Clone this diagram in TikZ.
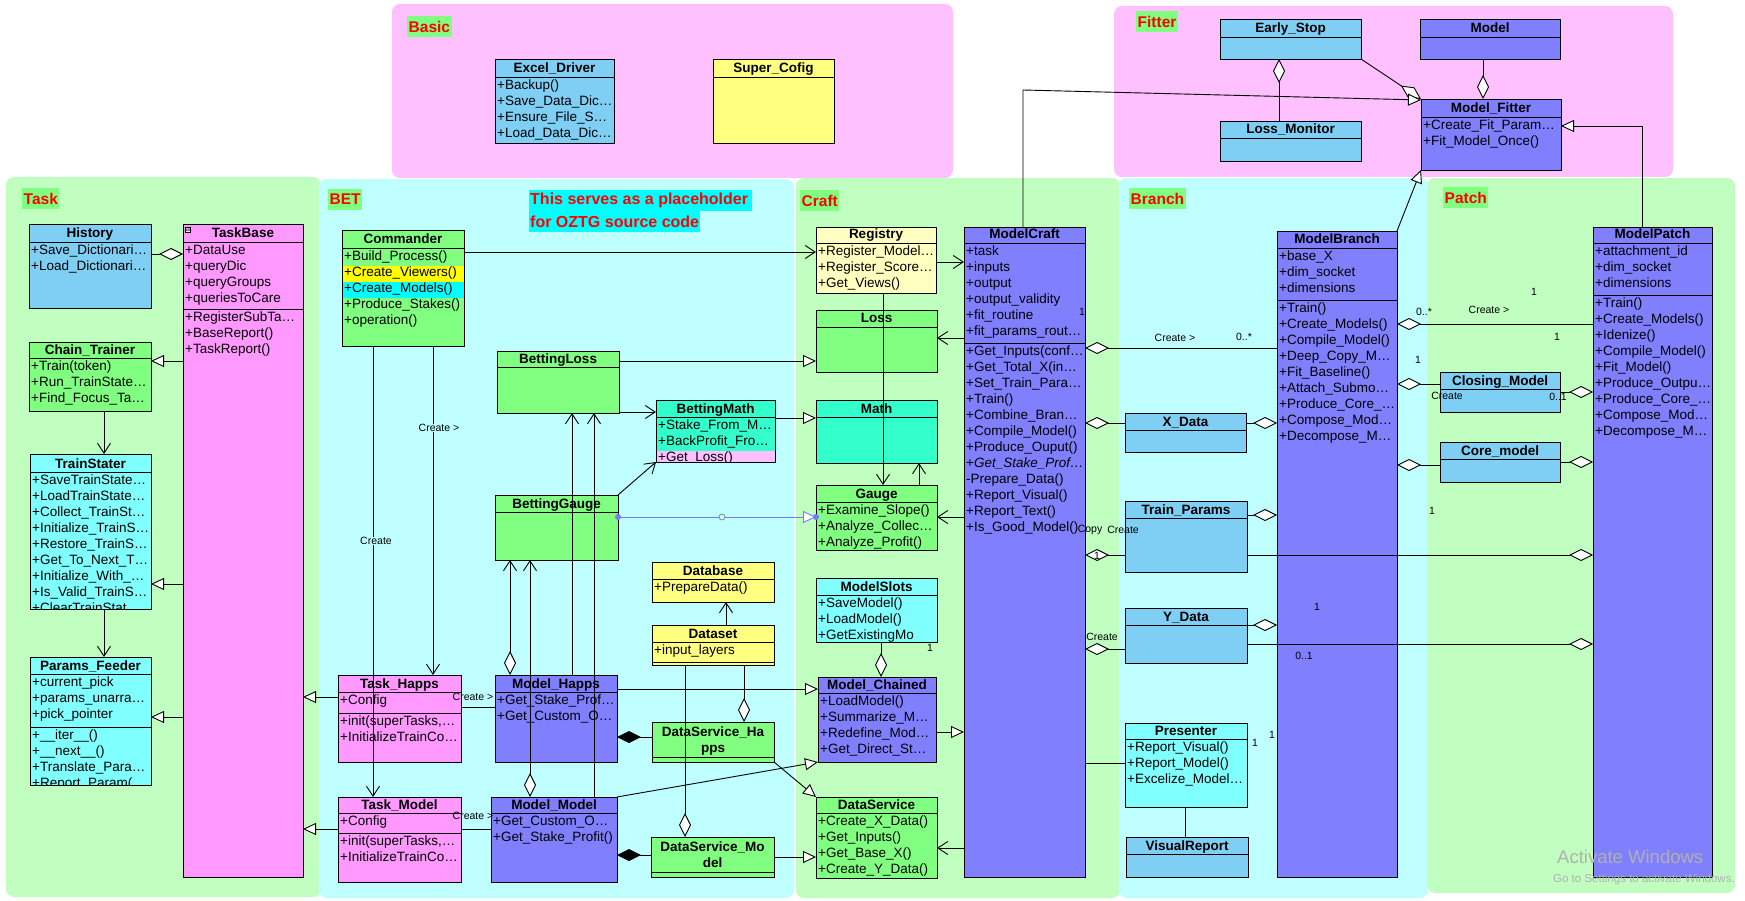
\documentclass[tikz,border=0pt]{standalone}
\usepackage{fontspec}
\setmainfont{Liberation Sans}
\usetikzlibrary{arrows.meta}

\definecolor{panelpink}{HTML}{FFC0FF}
\definecolor{panelgreen}{HTML}{C0FFC0}
\definecolor{panelcyan}{HTML}{C0FFFF}
\definecolor{taggreen}{HTML}{80FF80}
\definecolor{tagred}{HTML}{FF0000}
\definecolor{clsblue}{HTML}{7FCFF5}
\definecolor{clspurple}{HTML}{8080FF}
\definecolor{clspink}{HTML}{FF99FF}
\definecolor{clsgreen}{HTML}{80FF80}
\definecolor{clscyan}{HTML}{80FFFF}
\definecolor{clsyellow}{HTML}{FFFF80}
\definecolor{clscream}{HTML}{FFFFC0}
\definecolor{clsteal}{HTML}{33FFCC}
\definecolor{hlyellow}{HTML}{FFFF00}
\definecolor{hlcyan}{HTML}{00FFFF}
\definecolor{hlpink}{HTML}{FFC0FF}
\definecolor{realblue}{HTML}{7878F8}
\definecolor{watermark}{HTML}{B0B0B0}

\newcommand\rowstrut{\rule[-3pt]{0pt}{13pt}}

% class box: name, x1, y1, x2, y2, header rule y, fill, title
\newcommand\umlclass[8]{%
  \pgfmathsetmacro\clsw{#4-#2}%
  \pgfmathsetmacro\clsh{#5-#3}%
  \pgfmathsetmacro\clsx{(#2+#4)/2}%
  \pgfmathsetmacro\clsy{(#3+#5)/2}%
  \pgfmathsetmacro\clsty{#6-4}%
  \node[clsframe, fill=#7, minimum width=\clsw pt, minimum height=\clsh pt] (#1) at (\clsx,\clsy) {};
  \draw[clsrule] (#2,#6) -- (#4,#6);
  \node[clstitle] (#1-title) at (\clsx,\clsty) {#8};
}
% compartment text: box name, y of the rule above, lines
\newcommand\umlrows[3]{%
  \begin{scope}
    \clip (#1.north west) rectangle (#1.south east);
    \node[clsrows, xshift=2pt, yshift=-2pt] (#1-rows-#2) at (#1.west |- 0,#2) {\rowstrut#3};
  \end{scope}
}

\tikzset{
  clsframe/.style={draw=black, line width=0.9pt, inner sep=0pt, outer sep=0pt},
  clsrule/.style={draw=black, line width=0.9pt},
  clstitle/.style={anchor=base, inner sep=0pt, font=\fontsize{13.5}{16}\selectfont\bfseries},
  clsrows/.style={anchor=north west, inner sep=0pt, align=left, font=\fontsize{13.5}{16}\selectfont},
  paneltag/.style={anchor=west, fill=taggreen, text=tagred, inner xsep=1.5pt, inner ysep=0pt,
    minimum height=21pt, font=\fontsize{15.5}{18}\selectfont\bfseries},
  notetext/.style={anchor=west, fill=hlcyan, text=tagred, inner xsep=1pt, inner ysep=0pt,
    minimum height=21pt, font=\fontsize{16}{18}\selectfont\bfseries},
  lbl/.style={inner sep=0pt, font=\fontsize{10.5}{12}\selectfont},
  conn/.style={draw=black, line width=0.9pt},
  genarrow/.style={conn, -{Triangle[fill=white, length=13pt, width=12pt]}},
  navarrow/.style={conn, -{Straight Barb[length=10pt, width=13pt]}},
  aggstart/.style={conn, {Diamond[fill=white, length=24pt, width=12pt]}-},
  aggend/.style={conn, -{Diamond[fill=white, length=24pt, width=12pt]}},
  aggnav/.style={conn, {Diamond[fill=white, length=24pt, width=12pt]}-{Straight Barb[length=10pt, width=13pt]}},
  compstart/.style={conn, {Diamond[fill=black, length=24pt, width=12pt]}-},
  realize/.style={draw=realblue, line width=0.9pt, -{Triangle[fill=white, length=13pt, width=12pt]}},
}

\begin{document}
\begin{tikzpicture}[x=1pt, y=-1pt]
\useasboundingbox (0,0) rectangle (1745,901);
\fill[white] (0,0) rectangle (1745,901);

% ---------- package panels ----------
\path[fill=panelpink, rounded corners=8pt] (392,4) rectangle (953,178);
\path[fill=panelpink, rounded corners=8pt] (1114,6) rectangle (1673,177);
\path[fill=panelgreen, rounded corners=8pt] (6,177) rectangle (321,897);
\path[fill=panelcyan, rounded corners=8pt] (319,179) rectangle (794,898);
\path[fill=panelgreen, rounded corners=8pt] (796,178) rectangle (1120,898);
\path[fill=panelcyan, rounded corners=8pt] (1119,178) rectangle (1428,898);
\path[fill=panelgreen, rounded corners=8pt] (1427,178) rectangle (1735,893);

\node[paneltag] (tagBasic) at (407,27) {Basic};
\node[paneltag] (tagFitter) at (1136,21.5) {Fitter};
\node[paneltag] (tagTask) at (22,198.5) {Task};
\node[paneltag] (tagBET) at (328,199.5) {BET};
\node[paneltag] (tagCraft) at (800,200.5) {Craft};
\node[paneltag] (tagBranch) at (1129,198.5) {Branch};
\node[paneltag] (tagPatch) at (1443,198) {Patch};
\node[notetext] (noteA) at (529,200.5) {This serves as a placeholder\,};
\node[notetext] (noteB) at (529,221.5) {for OZTG source code};

% ---------- Basic ----------
\umlclass{ExcelDriver}{495}{59}{614}{143}{77}{clsblue}{Excel\_Driver}
\umlrows{ExcelDriver}{77}{+Backup()\\+Save\_Data\_Dic…\\+Ensure\_File\_S…\\+Load\_Data\_Dic…}
\umlclass{SuperCofig}{713}{59}{834}{143}{77}{clsyellow}{Super\_Cofig}

% ---------- Fitter ----------
\umlclass{EarlyStop}{1220}{19}{1361}{59}{37}{clsblue}{Early\_Stop}
\umlclass{FitModel}{1420}{19}{1560}{59}{37}{clspurple}{Model}
\umlclass{LossMonitor}{1220}{121}{1361}{161}{138}{clsblue}{Loss\_Monitor}
\umlclass{ModelFitter}{1421}{99}{1561}{170}{117}{clspurple}{Model\_Fitter}
\umlrows{ModelFitter}{117}{+Create\_Fit\_Param…\\+Fit\_Model\_Once()}

% ---------- Task ----------
\umlclass{History}{29}{224}{151}{308}{242}{clsblue}{History}
\umlrows{History}{242}{+Save\_Dictionari…\\+Load\_Dictionari…}
\umlclass{TaskBase}{183}{224}{303}{877}{242}{clspink}{TaskBase}
\umlrows{TaskBase}{242}{+DataUse\\+queryDic\\+queryGroups\\+queriesToCare}
\draw[clsrule] (183,309) -- (303,309);
\umlrows{TaskBase}{309}{+RegisterSubTa…\\+BaseReport()\\+TaskReport()}
\node[draw=black, fill=white, line width=0.5pt, inner sep=0.6pt, font=\fontsize{7}{7}\selectfont] (TaskBaseMark) at (188,230) {a};

\umlclass{ChainTrainer}{29}{342}{151}{411}{358}{clsgreen}{Chain\_Trainer}
\umlrows{ChainTrainer}{358}{+Train(token)\\+Run\_TrainState…\\+Find\_Focus\_Ta…}
\umlclass{TrainStater}{30}{454}{151}{609}{472}{clscyan}{TrainStater}
\umlrows{TrainStater}{472}{+SaveTrainState…\\+LoadTrainState…\\+Collect\_TrainSt…\\+Initialize\_TrainS…\\+Restore\_TrainS…\\+Get\_To\_Next\_T…\\+Initialize\_With\_…\\+Is\_Valid\_TrainS…\\+ClearTrainStat}
\umlclass{ParamsFeeder}{30}{657}{151}{785}{674}{clscyan}{Params\_Feeder}
\umlrows{ParamsFeeder}{674}{+current\_pick\\+params\_unarra…\\+pick\_pointer}
\draw[clsrule] (30,727) -- (151,727);
\umlrows{ParamsFeeder}{727}{+\_\_iter\_\_()\\+\_\_next\_\_()\\+Translate\_Para…\\+Report\_Param(}

% ---------- BET ----------
\umlclass{Commander}{342}{230}{464}{346}{248}{clsgreen}{Commander}
\fill[hlyellow] (342.5,266) rectangle (463.5,282);
\fill[hlcyan] (342.5,282) rectangle (463.5,298);
\umlrows{Commander}{248}{+Build\_Process()\\+Create\_Viewers()\\+Create\_Models()\\+Produce\_Stakes()\\+operation()}

\umlclass{TaskHapps}{338}{675}{461}{762}{692}{clspink}{Task\_Happs}
\umlrows{TaskHapps}{692}{+Config}
\draw[clsrule] (338,713) -- (461,713);
\umlrows{TaskHapps}{713}{+init(superTasks,…\\+InitializeTrainCo…}
\umlclass{TaskModel}{338}{797}{461}{882}{813}{clspink}{Task\_Model}
\umlrows{TaskModel}{813}{+Config}
\draw[clsrule] (338,833) -- (461,833);
\umlrows{TaskModel}{833}{+init(superTasks,…\\+InitializeTrainCo…}

\umlclass{ModelHapps}{495}{675}{617}{762}{692}{clspurple}{Model\_Happs}
\umlrows{ModelHapps}{692}{+Get\_Stake\_Prof…\\+Get\_Custom\_O…}
\umlclass{ModelModel}{491}{797}{617}{882}{813}{clspurple}{Model\_Model}
\umlrows{ModelModel}{813}{+Get\_Custom\_O…\\+Get\_Stake\_Profit()}

\umlclass{BettingLoss}{497}{351}{619}{413}{367}{clsgreen}{BettingLoss}
\umlclass{BettingMath}{656}{400}{775}{462}{417}{clsteal}{BettingMath}
\fill[hlpink] (656.5,451) rectangle (774.5,461.5);
\umlrows{BettingMath}{417}{+Stake\_From\_M…\\+BackProfit\_Fro…\\+Get\_Loss()}
\umlclass{BettingGauge}{495}{495}{618}{560}{512}{clsgreen}{BettingGauge}

\umlclass{Database}{652}{562}{774}{602}{579}{clsyellow}{Database}
\umlrows{Database}{579}{+PrepareData()}
\umlclass{Dataset}{652}{625}{774}{665}{642}{clsyellow}{Dataset}
\umlrows{Dataset}{642}{+input\_layers}
\draw[clsrule] (652,662) -- (774,662);

\umlclass{DataServiceHapps}{652}{722}{774}{762}{757}{clsgreen}{}
\node[clstitle] (DataServiceHapps-t1) at (713,736) {DataService\_Ha};
\node[clstitle] (DataServiceHapps-t2) at (713,752) {pps};
\umlclass{DataServiceModel}{651}{837}{774}{877}{872}{clsgreen}{}
\node[clstitle] (DataServiceModel-t1) at (712.5,851) {DataService\_Mo};
\node[clstitle] (DataServiceModel-t2) at (712.5,867) {del};

% ---------- Craft ----------
\umlclass{Registry}{816}{227}{936}{293}{243}{clscream}{Registry}
\umlrows{Registry}{243}{+Register\_Model…\\+Register\_Score…\\+Get\_Views()}
\umlclass{Loss}{816}{310}{937}{372}{327}{clsgreen}{Loss}
\umlclass{Math}{816}{400}{937}{463}{417}{clsteal}{Math}
\umlclass{Gauge}{816}{485}{937}{550}{502}{clsgreen}{Gauge}
\umlrows{Gauge}{502}{+Examine\_Slope()\\+Analyze\_Collec…\\+Analyze\_Profit()}
\umlclass{ModelSlots}{816}{578}{937}{642}{595}{clscyan}{ModelSlots}
\umlrows{ModelSlots}{595}{+SaveModel()\\+LoadModel()\\+GetExistingMo}
\umlclass{ModelChained}{818}{677}{936}{762}{693}{clspurple}{Model\_Chained}
\umlrows{ModelChained}{693}{+LoadModel()\\+Summarize\_M…\\+Redefine\_Mod…\\+Get\_Direct\_St…}
\umlclass{DataService}{816}{797}{937}{878}{813}{clsgreen}{DataService}
\umlrows{DataService}{813}{+Create\_X\_Data()\\+Get\_Inputs()\\+Get\_Base\_X()\\+Create\_Y\_Data()}

\umlclass{ModelCraft}{964}{227}{1085}{877}{243}{clspurple}{ModelCraft}
\umlrows{ModelCraft}{243}{+task\\+inputs\\+output\\+output\_validity\\+fit\_routine\\+fit\_params\_rout…}
\draw[clsrule] (964,343) -- (1085,343);
\umlrows{ModelCraft}{343}{+Get\_Inputs(conf…\\+Get\_Total\_X(in…\\+Set\_Train\_Para…\\+Train()\\+Combine\_Bran…\\+Compile\_Model()\\+Produce\_Ouput()\\+\textit{Get\_Stake\_Prof…}\\-Prepare\_Data()\\+Report\_Visual()\\+Report\_Text()\\+Is\_Good\_Model()}

% ---------- Branch ----------
\umlclass{ModelBranch}{1277}{231}{1397}{877}{248}{clspurple}{ModelBranch}
\umlrows{ModelBranch}{248}{+base\_X\\+dim\_socket\\+dimensions}
\draw[clsrule] (1277,300) -- (1397,300);
\umlrows{ModelBranch}{300}{+Train()\\+Create\_Models()\\+Compile\_Model()\\+Deep\_Copy\_M…\\+Fit\_Baseline()\\+Attach\_Submo…\\+Produce\_Core\_…\\+Compose\_Mod…\\+Decompose\_M…}
\umlclass{XData}{1125}{413}{1246}{452}{430}{clsblue}{X\_Data}
\umlclass{TrainParams}{1125}{501}{1247}{572}{518}{clsblue}{Train\_Params}
\umlclass{YData}{1125}{608}{1247}{663}{625}{clsblue}{Y\_Data}
\umlclass{Presenter}{1125}{723}{1247}{807}{739}{clscyan}{Presenter}
\umlrows{Presenter}{739}{+Report\_Visual()\\+Report\_Model()\\+Excelize\_Model…}
\umlclass{VisualReport}{1126}{837}{1248}{877}{854}{clsblue}{VisualReport}

% ---------- Patch ----------
\umlclass{ClosingModel}{1440}{372}{1560}{412}{389}{clsblue}{Closing\_Model}
\umlclass{CoreModel}{1440}{442}{1560}{482}{459}{clsblue}{Core\_model}
\umlclass{ModelPatch}{1593}{227}{1712}{877}{243}{clspurple}{ModelPatch}
\umlrows{ModelPatch}{243}{+attachment\_id\\+dim\_socket\\+dimensions}
\draw[clsrule] (1593,295) -- (1712,295);
\umlrows{ModelPatch}{295}{+Train()\\+Create\_Models()\\+Idenize()\\+Compile\_Model()\\+Fit\_Model()\\+Produce\_Outpu…\\+Produce\_Core\_…\\+Compose\_Mod…\\+Decompose\_M…}

% ---------- connectors: Fitter ----------
\draw[aggstart] (EarlyStop.south -| 1279,0) -- (LossMonitor.north -| 1279,0);
\draw[aggend] (FitModel.south -| 1483,0) -- (ModelFitter.north -| 1483,0);
\draw[aggend] (EarlyStop.south east) -- (ModelFitter.north west);
\coordinate (craftBend) at (1023,90);
\draw[genarrow] (ModelCraft.north -| craftBend) -- (craftBend) -- (ModelFitter.west |- 0,100);
\draw[genarrow] (ModelBranch.north east) -- (ModelFitter.south west);
\draw[genarrow] (ModelPatch.north -| 1642,0) |- (ModelFitter.east |- 0,126);

% ---------- connectors: Task ----------
\draw[aggstart] (TaskBase.west |- 0,254) -- (History.east |- 0,254);
\draw[genarrow] (TaskBase.west |- 0,361) -- (ChainTrainer.east |- 0,361);
\draw[navarrow] (ChainTrainer.south -| 104,0) -- (TrainStater.north -| 104,0);
\draw[genarrow] (TaskBase.west |- 0,584) -- (TrainStater.east |- 0,584);
\draw[navarrow] (TrainStater.south -| 104,0) -- (ParamsFeeder.north -| 104,0);
\draw[genarrow] (TaskBase.west |- 0,717) -- (ParamsFeeder.east |- 0,717);
\draw[genarrow] (TaskHapps.west |- 0,697) -- (TaskBase.east |- 0,697);
\draw[genarrow] (TaskModel.west |- 0,829) -- (TaskBase.east |- 0,829);

% ---------- connectors: BET ----------
\draw[navarrow] (Commander.east |- 0,252) -- (Registry.west |- 0,252);
\draw[navarrow] (Commander.south -| 433,0) -- (TaskHapps.north -| 433,0);
\node[lbl, fill=panelcyan] (lblCmdHapps) at (439,428) {Create >};
\draw[navarrow] (Commander.south -| 373,0) -- (TaskModel.north -| 373,0);
\node[lbl, fill=panelcyan] (lblCmdModel) at (376,541) {Create};
\draw[conn] (TaskHapps.east |- 0,707) -- (ModelHapps.west |- 0,707);
\node[lbl] (lblHapps) at (473,697) {Create >};
\draw[conn] (TaskModel.east |- 0,829) -- (ModelModel.west |- 0,829);
\node[lbl] (lblModel) at (473,816) {Create >};

\draw[genarrow] (BettingLoss.east |- 0,361) -- (Loss.west |- 0,361);
\draw[navarrow] (BettingLoss.east |- 0,412) -- (BettingMath.west |- 0,412);
\draw[genarrow] (BettingMath.east |- 0,418) -- (Math.west |- 0,418);
\draw[navarrow] (BettingGauge.north east) -- (BettingMath.south west);
\draw[realize] (BettingGauge.east |- 0,517) -- (Gauge.west |- 0,517);
\fill[realblue] (BettingGauge.east |- 0,517) circle[radius=3pt];
\fill[realblue] (Gauge.west |- 0,517) circle[radius=3pt];
\node[circle, draw=gray, fill=panelcyan, line width=0.7pt, inner sep=0pt, minimum size=6pt] (realMid) at (722,517) {};

\draw[navarrow] (ModelHapps.north -| 572,0) -- (BettingLoss.south -| 572,0);
\draw[navarrow] (ModelModel.north -| 594,0) -- (BettingLoss.south -| 594,0);
\draw[aggnav] (ModelHapps.north -| 510,0) -- (BettingGauge.south -| 510,0);
\draw[aggnav] (ModelModel.north -| 530,0) -- (BettingGauge.south -| 530,0);

\draw[navarrow] (Dataset.north -| 726,0) -- (Database.south -| 726,0);
\draw[aggend] (Dataset.south -| 685,0) -- (DataServiceModel.north -| 685,0);
\draw[aggend] (Dataset.south -| 744,0) -- (DataServiceHapps.north -| 744,0);
\draw[compstart] (ModelHapps.east |- 0,737) -- (DataServiceHapps.west |- 0,737);
\draw[compstart] (ModelModel.east |- 0,855) -- (DataServiceModel.west |- 0,855);
\draw[genarrow] (DataServiceHapps.south east) -- (DataService.north west);
\draw[genarrow] (DataServiceModel.east |- 0,857) -- (DataService.west |- 0,857);
\draw[genarrow] (ModelHapps.east |- 0,689) -- (ModelChained.west |- 0,689);
\draw[genarrow] (ModelModel.north east) -- (ModelChained.south west);

% ---------- connectors: Craft ----------
\draw[navarrow] (Registry.east |- 0,262) -- (ModelCraft.west |- 0,262);
\draw[navarrow] (Registry.south -| 883,0) -- (Gauge.north -| 883,0);
\draw[navarrow] (Gauge.north -| 919,0) -- (Math.south -| 919,0);
\draw[navarrow] (ModelCraft.west |- 0,338) -- (Loss.east |- 0,338);
\draw[navarrow] (ModelCraft.west |- 0,517) -- (Gauge.east |- 0,517);
\draw[aggend] (ModelSlots.south -| 881,0) -- (ModelChained.north -| 881,0);
\node[lbl] (lblSlots) at (930,648) {1};
\draw[genarrow] (ModelChained.east |- 0,732) -- (ModelCraft.west |- 0,732);
\draw[navarrow] (ModelCraft.west |- 0,848) -- (DataService.east |- 0,848);
\node[lbl] (lblCraftOne) at (1082,312) {1};

% ---------- connectors: Branch ----------
\draw[aggstart] (ModelCraft.east |- 0,348) -- (ModelBranch.west |- 0,348);
\node[lbl] (lblBranchCreate) at (1175,338) {Create >};
\node[lbl] (lblBranchMany) at (1244,337) {0..*};
\draw[aggstart] (ModelCraft.east |- 0,423) -- (XData.west |- 0,423);
\draw[aggend] (XData.east |- 0,423) -- (ModelBranch.west |- 0,423);
\draw[aggend] (TrainParams.east |- 0,515) -- (ModelBranch.west |- 0,515);
\draw[aggstart] (ModelCraft.east |- 0,555) -- (TrainParams.west |- 0,555);
\node[lbl] (lblParamsOne) at (1097,556) {1};
\node[lbl] (lblCopy) at (1090,530) {Copy};
\node[lbl] (lblParamsCreate) at (1123,530) {Create};
\draw[aggend] (TrainParams.east |- 0,555) -- (ModelPatch.west |- 0,555);
\draw[aggend] (YData.east |- 0,625) -- (ModelBranch.west |- 0,625);
\draw[aggstart] (ModelCraft.east |- 0,649) -- (YData.west |- 0,649);
\node[lbl] (lblYCreate) at (1102,637) {Create};
\draw[aggend] (YData.east |- 0,644) -- (ModelPatch.west |- 0,644);
\node[lbl] (lblYOpt) at (1304,656) {0..1};
\node[lbl] (lblYOne) at (1317,607) {1};
\draw[conn] (ModelCraft.east |- 0,763) -- (Presenter.west |- 0,763);
\node[lbl] (lblPresA) at (1255,743) {1};
\node[lbl] (lblPresB) at (1272,735) {1};
\draw[conn] (Presenter.south -| 1185,0) -- (VisualReport.north -| 1185,0);

% ---------- connectors: Patch ----------
\draw[aggstart] (ModelBranch.east |- 0,324) -- (ModelPatch.west |- 0,324);
\node[lbl] (lblPatchMany) at (1424,312) {0..*};
\node[lbl] (lblPatchCreate) at (1489,310) {Create >};
\node[lbl] (lblPatchOneA) at (1557,337) {1};
\node[lbl] (lblPatchOneB) at (1534,292) {1};
\draw[aggstart] (ModelBranch.east |- 0,384) -- (ClosingModel.west |- 0,384);
\node[lbl] (lblCloseOne) at (1418,360) {1};
\node[lbl] (lblCloseCreate) at (1447,396) {Create};
\draw[aggend] (ClosingModel.east |- 0,392) -- (ModelPatch.west |- 0,392);
\node[lbl] (lblCloseOpt) at (1558,397) {0..1};
\draw[aggstart] (ModelBranch.east |- 0,465) -- (CoreModel.west |- 0,465);
\draw[aggend] (CoreModel.east |- 0,462) -- (ModelPatch.west |- 0,462);
\node[lbl] (lblPatchOneC) at (1432,511) {1};

% ---------- system overlay text ----------
\node[anchor=base west, inner sep=0pt, text=watermark, font=\fontsize{18.5}{22}\selectfont] (wmA) at (1557,863) {Activate Windows};
\node[anchor=base west, inner sep=0pt, text=watermark, font=\fontsize{11.5}{14}\selectfont] (wmB) at (1553,882) {Go to Settings to activate Windows.};
\end{tikzpicture}
\end{document}
